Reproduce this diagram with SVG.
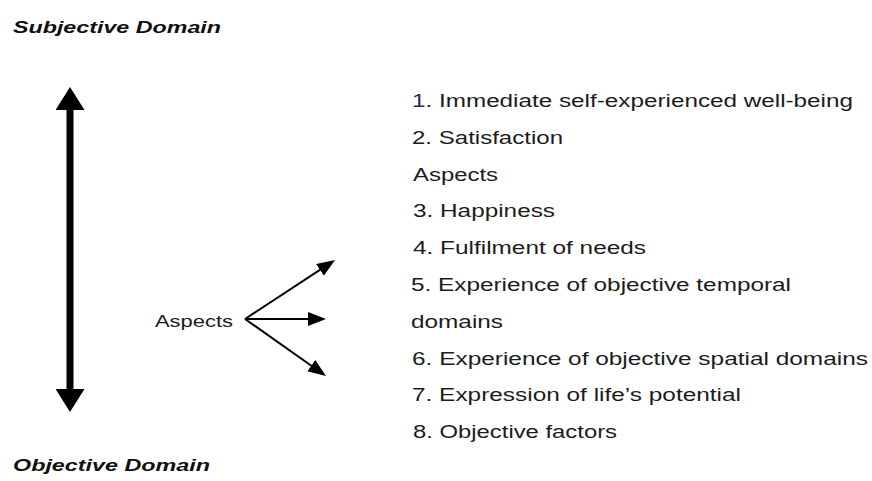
<svg xmlns="http://www.w3.org/2000/svg" width="872" height="481" viewBox="0 0 872 481">
<style>
.title{font-family:"Liberation Sans",Arial,sans-serif;font-weight:bold;font-style:italic;font-size:16.5px;fill:#111}
.item{font-family:"Liberation Sans",Arial,sans-serif;font-size:17.5px;fill:#1c1c1c}
.lbl{font-family:"Liberation Sans",Arial,sans-serif;font-size:17px;fill:#1c1c1c}
.conn{stroke:#000;fill:none}
</style>
<defs>
<marker id="bigHead" markerUnits="userSpaceOnUse" viewBox="0 0 23 29" refX="5" refY="14.5" markerWidth="23" markerHeight="29" orient="auto-start-reverse">
<path d="M0,0 L23,14.5 L0,29 z" fill="#000"/>
</marker>
<marker id="smallHead" markerUnits="userSpaceOnUse" viewBox="0 0 18 14" refX="14" refY="7" markerWidth="18" markerHeight="14" orient="auto">
<path d="M0,0 L18,7 L0,14 z" fill="#000"/>
</marker>
</defs>
<rect width="872" height="481" fill="#fff"/>
<g id="subjective-domain"><text class="title" x="13" y="33" textLength="208" lengthAdjust="spacingAndGlyphs">Subjective Domain</text></g>
<g id="objective-domain"><text class="title" x="13" y="471" textLength="197" lengthAdjust="spacingAndGlyphs">Objective Domain</text></g>
<g id="aspects-label"><text class="lbl" x="155" y="327" textLength="78" lengthAdjust="spacingAndGlyphs">Aspects</text></g>
<g id="list">
<text class="item" x="412" y="107" textLength="441" lengthAdjust="spacingAndGlyphs"><tspan fill="#2a2a60">1</tspan>. Immediate self-experienced well-being</text>
<text class="item" x="412" y="143.8" textLength="151" lengthAdjust="spacingAndGlyphs">2. Satisfaction</text>
<text class="item" x="413" y="180.6" textLength="85" lengthAdjust="spacingAndGlyphs">Aspects</text>
<text class="item" x="413" y="217.4" textLength="142" lengthAdjust="spacingAndGlyphs">3. Happiness</text>
<text class="item" x="413" y="254.2" textLength="233" lengthAdjust="spacingAndGlyphs">4. Fulfilment of needs</text>
<text class="item" x="411" y="291" textLength="380" lengthAdjust="spacingAndGlyphs">5. Experience of objective temporal</text>
<text class="item" x="411" y="327.8" textLength="92" lengthAdjust="spacingAndGlyphs">domains</text>
<text class="item" x="412" y="364.6" textLength="456" lengthAdjust="spacingAndGlyphs">6. Experience of objective spatial domains</text>
<text class="item" x="412" y="401.4" textLength="329" lengthAdjust="spacingAndGlyphs">7. Expression of life’s potential</text>
<text class="item" x="413" y="438.2" textLength="204" lengthAdjust="spacingAndGlyphs">8. Objective factors</text>
</g>
<g id="connectors">
<line class="conn" x1="70" y1="105" x2="70" y2="394" stroke-width="7" marker-start="url(#bigHead)" marker-end="url(#bigHead)"/>
<line class="conn" x1="245" y1="319" x2="331.7" y2="262.2" stroke-width="2" marker-end="url(#smallHead)"/>
<line class="conn" x1="245" y1="319" x2="322" y2="319" stroke-width="2" marker-end="url(#smallHead)"/>
<line class="conn" x1="245" y1="319" x2="322.7" y2="373.7" stroke-width="2" marker-end="url(#smallHead)"/>
</g>
</svg>
